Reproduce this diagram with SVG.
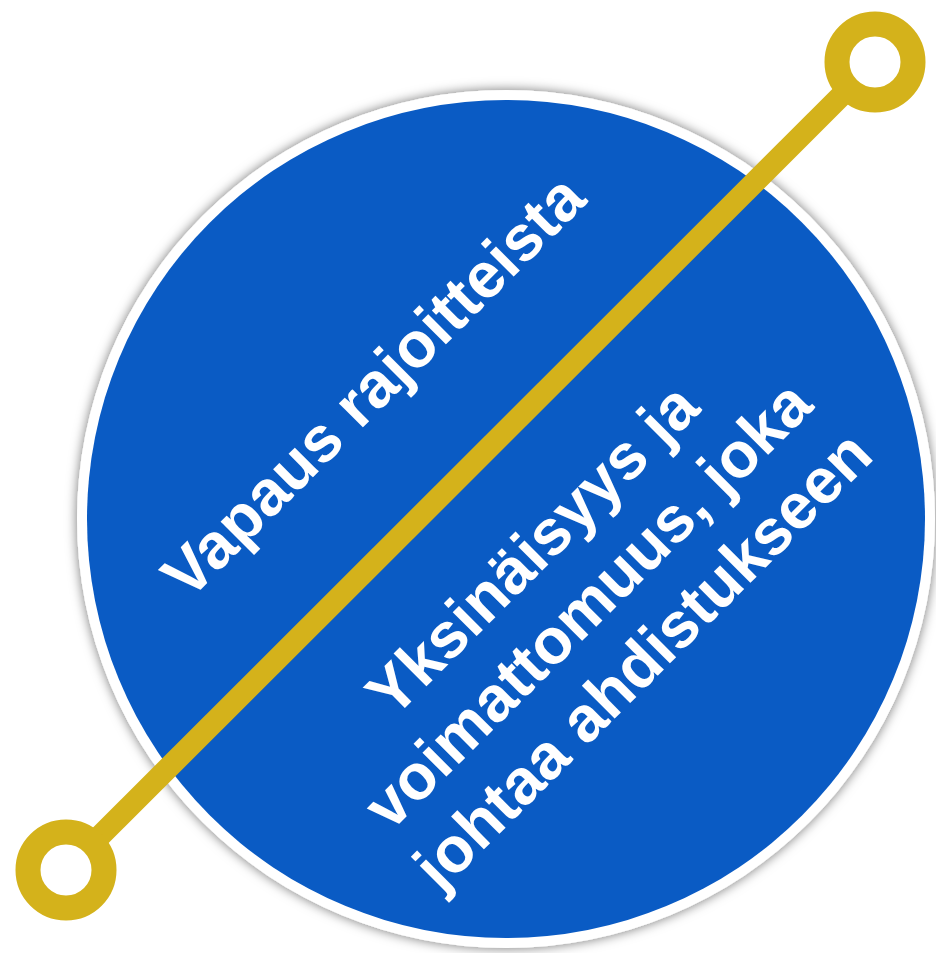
<svg xmlns="http://www.w3.org/2000/svg" width="936" height="953" viewBox="0 0 936 953">
  <style>
    .lbl { font-family: "Liberation Sans", Arial, sans-serif; font-weight: bold; font-size: 64px; fill: #ffffff; text-anchor: middle; }
    .ring { fill: #ffffff; stroke: #d4b21b; stroke-width: 25; }
    .bar { stroke: #d4b21b; stroke-width: 22; fill: none; }
  </style>
  <defs>
    <filter id="shadow" x="-20%" y="-20%" width="140%" height="140%">
      <feDropShadow dx="0" dy="0" stdDeviation="6" flood-color="#000000" flood-opacity="0.55"/>
    </filter>
  </defs>
  <rect width="936" height="953" fill="#ffffff"/>
  <g id="disc">
    <circle cx="506" cy="519" r="429" fill="#ffffff" filter="url(#shadow)"/>
    <circle cx="506" cy="519" r="419" fill="#0a5bc4"/>
  </g>
  <g id="connectors">
    <line class="bar" x1="66" y1="870" x2="875" y2="62"/>
  </g>
  <g id="end-bottom-left">
    <circle class="ring" cx="66" cy="870" r="38"/>
  </g>
  <g id="end-top-right">
    <circle class="ring" cx="875" cy="62" r="38"/>
  </g>
  <g id="label-top" transform="translate(506,519) rotate(-45)">
    <text class="lbl" x="0" y="-166">Vapaus rajoitteista</text>
  </g>
  <g id="label-bottom" transform="translate(506,519) rotate(-45)">
    <text class="lbl" x="-3" y="62">Yksinäisyys ja</text>
    <text class="lbl" x="-3" y="140">voimattomuus, joka</text>
    <text class="lbl" x="-3" y="218">johtaa ahdistukseen</text>
  </g>
</svg>
